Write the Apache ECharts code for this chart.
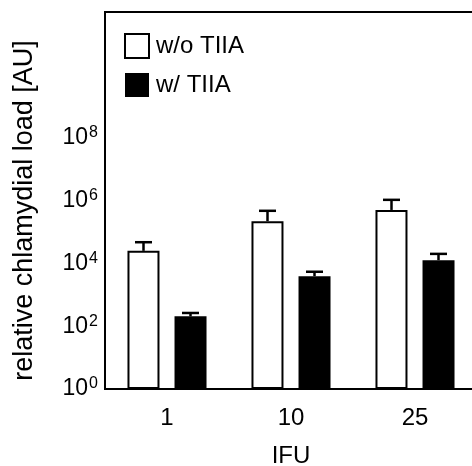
<!DOCTYPE html>
<html>
<head>
<meta charset="utf-8">
<script src="https://cdn.jsdelivr.net/npm/echarts@6/dist/echarts.min.js"></script>
<style>
  html, body { margin: 0; padding: 0; background: #fff; }
  #chart { width: 472px; height: 466px; }
</style>
</head>
<body>
<div id="chart"></div>
<script>
// IFU groups
var categories = ['1', '10', '25'];
// w/o TIIA: bar value and top of error bar
var withoutMean = [2.5e4, 2.2e5, 5.0e5];
var withoutUpper = [4.7e4, 4.7e5, 1.05e6];
// w/ TIIA
var withMean = [205, 3.9e3, 1.26e4];
var withUpper = [263, 5.4e3, 2.0e4];

var FONT = "'Liberation Sans', Arial, sans-serif";
var chart = echarts.init(document.getElementById('chart'));

// error bars drawn next to each bar (offset = half of bar + gap)
function errorSeries(name, means, uppers, offset) {
    var data = [];
    for (var i = 0; i < means.length; i++) {
        data.push([i, means[i], uppers[i]]);
    }
    return {
        name: name + ' err',
        type: 'custom',
        z: 5,
        encode: { x: 0, y: [1, 2] },
        data: data,
        renderItem: function (params, api) {
            var p0 = api.coord([api.value(0), api.value(1)]);
            var p1 = api.coord([api.value(0), api.value(2)]);
            var cx = p0[0] + offset;
            var st = { stroke: '#000', lineWidth: 2.5 };
            return {
                type: 'group',
                children: [
                    { type: 'line', shape: { x1: cx, y1: p0[1], x2: cx, y2: p1[1] }, style: st },
                    { type: 'line', shape: { x1: cx - 8.5, y1: p1[1], x2: cx + 8.5, y2: p1[1] }, style: st }
                ]
            };
        }
    };
}

var option = {
    animation: false,
    textStyle: { fontFamily: FONT, color: '#000' },
    grid: {
        left: 105, top: 12, width: 372, height: 377,
        outerBoundsMode: 'none',
        containLabel: false,
        show: true, borderColor: '#000', borderWidth: 2
    },
    legend: {
        orient: 'vertical',
        left: 119, top: 28,
        itemWidth: 24, itemHeight: 24, itemGap: 14,
        icon: 'rect',
        data: ['w/o TIIA', 'w/ TIIA'],
        textStyle: { fontSize: 24, fontFamily: FONT, color: '#000', padding: [2, 0, 0, 2] }
    },
    xAxis: {
        type: 'category',
        data: categories,
        name: 'IFU',
        nameLocation: 'middle',
        nameGap: 55,
        nameTextStyle: { fontSize: 24, fontFamily: FONT, color: '#000' },
        axisLine: { lineStyle: { color: '#000', width: 2 } },
        axisTick: { show: false },
        axisLabel: { fontSize: 24, fontFamily: FONT, color: '#000', margin: 17 }
    },
    yAxis: {
        type: 'log',
        logBase: 10,
        min: 1,
        max: 1e12,
        interval: 2,
        name: 'relative chlamydial load [AU]',
        nameLocation: 'middle',
        nameGap: 67,
        nameRotate: 90,
        nameTextStyle: { fontSize: 27, fontFamily: FONT, color: '#000', padding: [0, 20, 0, 0] },
        axisLine: { show: true, lineStyle: { color: '#000', width: 2 } },
        axisTick: { show: false },
        splitLine: { show: false },
        axisLabel: {
            margin: 7,
            formatter: function (v) {
                var e = Math.round(Math.log10(v));
                if (e > 8 || e % 2 !== 0) return '';
                return '{b|10}{s|' + e + '}';
            },
            rich: {
                b: { fontSize: 23, fontFamily: FONT, color: '#000', lineHeight: 26 },
                s: { fontSize: 16, fontFamily: FONT, color: '#000', verticalAlign: 'top', lineHeight: 18, padding: [0, 0, 0, 1] }
            }
        }
    },
    series: [
        {
            name: 'w/o TIIA',
            type: 'bar',
            barWidth: 32,
            barGap: '47%',
            data: withoutMean,
            itemStyle: { color: '#fff', borderColor: '#000', borderWidth: 2 }
        },
        {
            name: 'w/ TIIA',
            type: 'bar',
            barWidth: 32,
            data: withMean,
            itemStyle: { color: '#000', borderColor: '#000', borderWidth: 0 }
        },
        errorSeries('w/o TIIA', withoutMean, withoutUpper, -23.5),
        errorSeries('w/ TIIA', withMean, withUpper, 23.5)
    ]
};

chart.setOption(option);
</script>
</body>
</html>
